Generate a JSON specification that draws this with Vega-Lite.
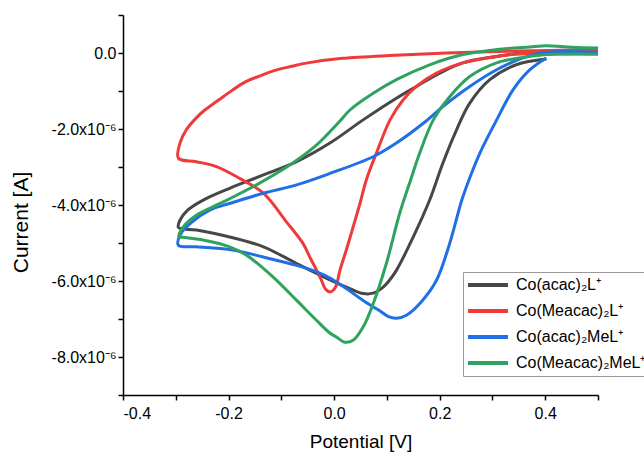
{
  "$schema": "https://vega.github.io/schema/vega-lite/v6.json",
  "width": 475,
  "height": 380,
  "autosize": "none",
  "padding": {"left": 123, "top": 15, "right": 46, "bottom": 58},
  "background": "white",
  "datasets": {
    "cv": [
      {"s":"Co(acac)₂L⁺","i":1,"v":0.402,"c":-0.16e-6},
      {"s":"Co(acac)₂L⁺","i":2,"v":0.345,"c":-0.31e-6},
      {"s":"Co(acac)₂L⁺","i":3,"v":0.295,"c":-0.70e-6},
      {"s":"Co(acac)₂L⁺","i":4,"v":0.257,"c":-1.32e-6},
      {"s":"Co(acac)₂L⁺","i":5,"v":0.232,"c":-2.02e-6},
      {"s":"Co(acac)₂L⁺","i":6,"v":0.206,"c":-2.90e-6},
      {"s":"Co(acac)₂L⁺","i":7,"v":0.181,"c":-3.87e-6},
      {"s":"Co(acac)₂L⁺","i":8,"v":0.150,"c":-4.84e-6},
      {"s":"Co(acac)₂L⁺","i":9,"v":0.118,"c":-5.72e-6},
      {"s":"Co(acac)₂L⁺","i":10,"v":0.105,"c":-5.98e-6},
      {"s":"Co(acac)₂L⁺","i":11,"v":0.093,"c":-6.16e-6},
      {"s":"Co(acac)₂L⁺","i":12,"v":0.074,"c":-6.32e-6},
      {"s":"Co(acac)₂L⁺","i":13,"v":0.055,"c":-6.33e-6},
      {"s":"Co(acac)₂L⁺","i":14,"v":0.030,"c":-6.20e-6},
      {"s":"Co(acac)₂L⁺","i":15,"v":-0.008,"c":-5.97e-6},
      {"s":"Co(acac)₂L⁺","i":16,"v":-0.071,"c":-5.54e-6},
      {"s":"Co(acac)₂L⁺","i":17,"v":-0.134,"c":-5.10e-6},
      {"s":"Co(acac)₂L⁺","i":18,"v":-0.198,"c":-4.84e-6},
      {"s":"Co(acac)₂L⁺","i":19,"v":-0.261,"c":-4.66e-6},
      {"s":"Co(acac)₂L⁺","i":20,"v":-0.295,"c":-4.59e-6},
      {"s":"Co(acac)₂L⁺","i":21,"v":-0.292,"c":-4.40e-6},
      {"s":"Co(acac)₂L⁺","i":22,"v":-0.277,"c":-4.13e-6},
      {"s":"Co(acac)₂L⁺","i":23,"v":-0.248,"c":-3.87e-6},
      {"s":"Co(acac)₂L⁺","i":24,"v":-0.198,"c":-3.56e-6},
      {"s":"Co(acac)₂L⁺","i":25,"v":-0.134,"c":-3.21e-6},
      {"s":"Co(acac)₂L⁺","i":26,"v":-0.071,"c":-2.86e-6},
      {"s":"Co(acac)₂L⁺","i":27,"v":-0.008,"c":-2.37e-6},
      {"s":"Co(acac)₂L⁺","i":28,"v":0.055,"c":-1.76e-6},
      {"s":"Co(acac)₂L⁺","i":29,"v":0.118,"c":-1.19e-6},
      {"s":"Co(acac)₂L⁺","i":30,"v":0.156,"c":-0.88e-6},
      {"s":"Co(acac)₂L⁺","i":31,"v":0.200,"c":-0.53e-6},
      {"s":"Co(acac)₂L⁺","i":32,"v":0.244,"c":-0.26e-6},
      {"s":"Co(acac)₂L⁺","i":33,"v":0.308,"c":-0.09e-6},
      {"s":"Co(acac)₂L⁺","i":34,"v":0.371,"c":0.02e-6},
      {"s":"Co(acac)₂L⁺","i":35,"v":0.45,"c":0.02e-6},
      {"s":"Co(acac)₂L⁺","i":36,"v":0.5,"c":0.01e-6},

      {"s":"Co(Meacac)₂L⁺","i":1,"v":0.5,"c":-0.02e-6},
      {"s":"Co(Meacac)₂L⁺","i":2,"v":0.45,"c":-0.02e-6},
      {"s":"Co(Meacac)₂L⁺","i":3,"v":0.40,"c":-0.01e-6},
      {"s":"Co(Meacac)₂L⁺","i":4,"v":0.345,"c":-0.03e-6},
      {"s":"Co(Meacac)₂L⁺","i":5,"v":0.308,"c":-0.09e-6},
      {"s":"Co(Meacac)₂L⁺","i":6,"v":0.244,"c":-0.26e-6},
      {"s":"Co(Meacac)₂L⁺","i":7,"v":0.194,"c":-0.53e-6},
      {"s":"Co(Meacac)₂L⁺","i":8,"v":0.156,"c":-0.88e-6},
      {"s":"Co(Meacac)₂L⁺","i":9,"v":0.131,"c":-1.23e-6},
      {"s":"Co(Meacac)₂L⁺","i":10,"v":0.106,"c":-1.76e-6},
      {"s":"Co(Meacac)₂L⁺","i":11,"v":0.080,"c":-2.64e-6},
      {"s":"Co(Meacac)₂L⁺","i":12,"v":0.061,"c":-3.34e-6},
      {"s":"Co(Meacac)₂L⁺","i":13,"v":0.049,"c":-3.96e-6},
      {"s":"Co(Meacac)₂L⁺","i":14,"v":0.036,"c":-4.58e-6},
      {"s":"Co(Meacac)₂L⁺","i":15,"v":0.023,"c":-5.19e-6},
      {"s":"Co(Meacac)₂L⁺","i":16,"v":0.011,"c":-5.72e-6},
      {"s":"Co(Meacac)₂L⁺","i":17,"v":0.004,"c":-6.12e-6},
      {"s":"Co(Meacac)₂L⁺","i":18,"v":-0.003,"c":-6.26e-6},
      {"s":"Co(Meacac)₂L⁺","i":19,"v":-0.008,"c":-6.29e-6},
      {"s":"Co(Meacac)₂L⁺","i":20,"v":-0.016,"c":-6.22e-6},
      {"s":"Co(Meacac)₂L⁺","i":21,"v":-0.024,"c":-5.98e-6},
      {"s":"Co(Meacac)₂L⁺","i":22,"v":-0.033,"c":-5.72e-6},
      {"s":"Co(Meacac)₂L⁺","i":23,"v":-0.046,"c":-5.37e-6},
      {"s":"Co(Meacac)₂L⁺","i":24,"v":-0.059,"c":-5.01e-6},
      {"s":"Co(Meacac)₂L⁺","i":25,"v":-0.090,"c":-4.45e-6},
      {"s":"Co(Meacac)₂L⁺","i":26,"v":-0.134,"c":-3.69e-6},
      {"s":"Co(Meacac)₂L⁺","i":27,"v":-0.179,"c":-3.30e-6},
      {"s":"Co(Meacac)₂L⁺","i":28,"v":-0.223,"c":-2.99e-6},
      {"s":"Co(Meacac)₂L⁺","i":29,"v":-0.261,"c":-2.86e-6},
      {"s":"Co(Meacac)₂L⁺","i":30,"v":-0.295,"c":-2.77e-6},
      {"s":"Co(Meacac)₂L⁺","i":31,"v":-0.292,"c":-2.37e-6},
      {"s":"Co(Meacac)₂L⁺","i":32,"v":-0.280,"c":-2.02e-6},
      {"s":"Co(Meacac)₂L⁺","i":33,"v":-0.262,"c":-1.72e-6},
      {"s":"Co(Meacac)₂L⁺","i":34,"v":-0.245,"c":-1.50e-6},
      {"s":"Co(Meacac)₂L⁺","i":35,"v":-0.220,"c":-1.25e-6},
      {"s":"Co(Meacac)₂L⁺","i":36,"v":-0.194,"c":-0.99e-6},
      {"s":"Co(Meacac)₂L⁺","i":37,"v":-0.168,"c":-0.76e-6},
      {"s":"Co(Meacac)₂L⁺","i":38,"v":-0.140,"c":-0.60e-6},
      {"s":"Co(Meacac)₂L⁺","i":39,"v":-0.115,"c":-0.47e-6},
      {"s":"Co(Meacac)₂L⁺","i":40,"v":-0.080,"c":-0.35e-6},
      {"s":"Co(Meacac)₂L⁺","i":41,"v":-0.050,"c":-0.26e-6},
      {"s":"Co(Meacac)₂L⁺","i":42,"v":0.016,"c":-0.14e-6},
      {"s":"Co(Meacac)₂L⁺","i":43,"v":0.115,"c":-0.06e-6},
      {"s":"Co(Meacac)₂L⁺","i":44,"v":0.213,"c":0.0},
      {"s":"Co(Meacac)₂L⁺","i":45,"v":0.345,"c":0.05e-6},
      {"s":"Co(Meacac)₂L⁺","i":46,"v":0.427,"c":0.07e-6},
      {"s":"Co(Meacac)₂L⁺","i":47,"v":0.5,"c":0.09e-6},

      {"s":"Co(acac)₂MeL⁺","i":1,"v":0.402,"c":-0.13e-6},
      {"s":"Co(acac)₂MeL⁺","i":2,"v":0.371,"c":-0.44e-6},
      {"s":"Co(acac)₂MeL⁺","i":3,"v":0.339,"c":-0.97e-6},
      {"s":"Co(acac)₂MeL⁺","i":4,"v":0.308,"c":-1.76e-6},
      {"s":"Co(acac)₂MeL⁺","i":5,"v":0.276,"c":-2.64e-6},
      {"s":"Co(acac)₂MeL⁺","i":6,"v":0.258,"c":-3.25e-6},
      {"s":"Co(acac)₂MeL⁺","i":7,"v":0.242,"c":-3.87e-6},
      {"s":"Co(acac)₂MeL⁺","i":8,"v":0.219,"c":-5.01e-6},
      {"s":"Co(acac)₂MeL⁺","i":9,"v":0.194,"c":-5.98e-6},
      {"s":"Co(acac)₂MeL⁺","i":10,"v":0.165,"c":-6.55e-6},
      {"s":"Co(acac)₂MeL⁺","i":11,"v":0.137,"c":-6.90e-6},
      {"s":"Co(acac)₂MeL⁺","i":12,"v":0.118,"c":-6.98e-6},
      {"s":"Co(acac)₂MeL⁺","i":13,"v":0.102,"c":-6.93e-6},
      {"s":"Co(acac)₂MeL⁺","i":14,"v":0.087,"c":-6.79e-6},
      {"s":"Co(acac)₂MeL⁺","i":15,"v":0.055,"c":-6.51e-6},
      {"s":"Co(acac)₂MeL⁺","i":16,"v":0.023,"c":-6.20e-6},
      {"s":"Co(acac)₂MeL⁺","i":17,"v":-0.008,"c":-5.92e-6},
      {"s":"Co(acac)₂MeL⁺","i":18,"v":-0.033,"c":-5.76e-6},
      {"s":"Co(acac)₂MeL⁺","i":19,"v":-0.071,"c":-5.59e-6},
      {"s":"Co(acac)₂MeL⁺","i":20,"v":-0.134,"c":-5.37e-6},
      {"s":"Co(acac)₂MeL⁺","i":21,"v":-0.198,"c":-5.17e-6},
      {"s":"Co(acac)₂MeL⁺","i":22,"v":-0.261,"c":-5.10e-6},
      {"s":"Co(acac)₂MeL⁺","i":23,"v":-0.295,"c":-5.06e-6},
      {"s":"Co(acac)₂MeL⁺","i":24,"v":-0.292,"c":-4.79e-6},
      {"s":"Co(acac)₂MeL⁺","i":25,"v":-0.273,"c":-4.49e-6},
      {"s":"Co(acac)₂MeL⁺","i":26,"v":-0.235,"c":-4.13e-6},
      {"s":"Co(acac)₂MeL⁺","i":27,"v":-0.198,"c":-3.96e-6},
      {"s":"Co(acac)₂MeL⁺","i":28,"v":-0.134,"c":-3.69e-6},
      {"s":"Co(acac)₂MeL⁺","i":29,"v":-0.071,"c":-3.47e-6},
      {"s":"Co(acac)₂MeL⁺","i":30,"v":-0.008,"c":-3.17e-6},
      {"s":"Co(acac)₂MeL⁺","i":31,"v":0.074,"c":-2.73e-6},
      {"s":"Co(acac)₂MeL⁺","i":32,"v":0.118,"c":-2.37e-6},
      {"s":"Co(acac)₂MeL⁺","i":33,"v":0.169,"c":-1.85e-6},
      {"s":"Co(acac)₂MeL⁺","i":34,"v":0.206,"c":-1.41e-6},
      {"s":"Co(acac)₂MeL⁺","i":35,"v":0.257,"c":-0.88e-6},
      {"s":"Co(acac)₂MeL⁺","i":36,"v":0.308,"c":-0.44e-6},
      {"s":"Co(acac)₂MeL⁺","i":37,"v":0.358,"c":-0.13e-6},
      {"s":"Co(acac)₂MeL⁺","i":38,"v":0.402,"c":0.02e-6},
      {"s":"Co(acac)₂MeL⁺","i":39,"v":0.5,"c":0.02e-6},

      {"s":"Co(Meacac)₂MeL⁺","i":1,"v":0.5,"c":-0.03e-6},
      {"s":"Co(Meacac)₂MeL⁺","i":2,"v":0.402,"c":-0.04e-6},
      {"s":"Co(Meacac)₂MeL⁺","i":3,"v":0.371,"c":-0.09e-6},
      {"s":"Co(Meacac)₂MeL⁺","i":4,"v":0.308,"c":-0.26e-6},
      {"s":"Co(Meacac)₂MeL⁺","i":5,"v":0.257,"c":-0.62e-6},
      {"s":"Co(Meacac)₂MeL⁺","i":6,"v":0.219,"c":-1.15e-6},
      {"s":"Co(Meacac)₂MeL⁺","i":7,"v":0.188,"c":-1.76e-6},
      {"s":"Co(Meacac)₂MeL⁺","i":8,"v":0.162,"c":-2.64e-6},
      {"s":"Co(Meacac)₂MeL⁺","i":9,"v":0.145,"c":-3.34e-6},
      {"s":"Co(Meacac)₂MeL⁺","i":10,"v":0.124,"c":-4.23e-6},
      {"s":"Co(Meacac)₂MeL⁺","i":11,"v":0.099,"c":-5.54e-6},
      {"s":"Co(Meacac)₂MeL⁺","i":12,"v":0.074,"c":-6.60e-6},
      {"s":"Co(Meacac)₂MeL⁺","i":13,"v":0.055,"c":-7.21e-6},
      {"s":"Co(Meacac)₂MeL⁺","i":14,"v":0.036,"c":-7.56e-6},
      {"s":"Co(Meacac)₂MeL⁺","i":15,"v":0.020,"c":-7.61e-6},
      {"s":"Co(Meacac)₂MeL⁺","i":16,"v":0.005,"c":-7.48e-6},
      {"s":"Co(Meacac)₂MeL⁺","i":17,"v":-0.008,"c":-7.37e-6},
      {"s":"Co(Meacac)₂MeL⁺","i":18,"v":-0.033,"c":-7.04e-6},
      {"s":"Co(Meacac)₂MeL⁺","i":19,"v":-0.071,"c":-6.51e-6},
      {"s":"Co(Meacac)₂MeL⁺","i":20,"v":-0.116,"c":-5.89e-6},
      {"s":"Co(Meacac)₂MeL⁺","i":21,"v":-0.166,"c":-5.32e-6},
      {"s":"Co(Meacac)₂MeL⁺","i":22,"v":-0.198,"c":-5.10e-6},
      {"s":"Co(Meacac)₂MeL⁺","i":23,"v":-0.242,"c":-4.94e-6},
      {"s":"Co(Meacac)₂MeL⁺","i":24,"v":-0.286,"c":-4.85e-6},
      {"s":"Co(Meacac)₂MeL⁺","i":25,"v":-0.294,"c":-4.84e-6},
      {"s":"Co(Meacac)₂MeL⁺","i":26,"v":-0.286,"c":-4.58e-6},
      {"s":"Co(Meacac)₂MeL⁺","i":27,"v":-0.261,"c":-4.27e-6},
      {"s":"Co(Meacac)₂MeL⁺","i":28,"v":-0.210,"c":-3.92e-6},
      {"s":"Co(Meacac)₂MeL⁺","i":29,"v":-0.147,"c":-3.47e-6},
      {"s":"Co(Meacac)₂MeL⁺","i":30,"v":-0.084,"c":-2.95e-6},
      {"s":"Co(Meacac)₂MeL⁺","i":31,"v":-0.033,"c":-2.42e-6},
      {"s":"Co(Meacac)₂MeL⁺","i":32,"v":0.011,"c":-1.79e-6},
      {"s":"Co(Meacac)₂MeL⁺","i":33,"v":0.030,"c":-1.50e-6},
      {"s":"Co(Meacac)₂MeL⁺","i":34,"v":0.074,"c":-1.06e-6},
      {"s":"Co(Meacac)₂MeL⁺","i":35,"v":0.118,"c":-0.70e-6},
      {"s":"Co(Meacac)₂MeL⁺","i":36,"v":0.181,"c":-0.31e-6},
      {"s":"Co(Meacac)₂MeL⁺","i":37,"v":0.244,"c":-0.04e-6},
      {"s":"Co(Meacac)₂MeL⁺","i":38,"v":0.308,"c":0.09e-6},
      {"s":"Co(Meacac)₂MeL⁺","i":39,"v":0.371,"c":0.16e-6},
      {"s":"Co(Meacac)₂MeL⁺","i":40,"v":0.402,"c":0.19e-6},
      {"s":"Co(Meacac)₂MeL⁺","i":41,"v":0.45,"c":0.15e-6},
      {"s":"Co(Meacac)₂MeL⁺","i":42,"v":0.5,"c":0.13e-6}
    ]
  },
  "data": {"name": "cv"},
  "layer": [
    {
      "mark": {"type": "line", "opacity": 0},
      "encoding": {
        "x": {"field": "v", "type": "quantitative",
              "scale": {"domain": [-0.4, 0.5], "nice": false, "zero": false},
              "axis": {"orient": "bottom", "values": [-0.3, -0.1, 0.1, 0.3, 0.5], "labels": false, "domain": false, "title": null, "ticks": true}},
        "y": {"field": "c", "type": "quantitative",
              "scale": {"domain": [-9e-6, 1e-6], "nice": false, "zero": false},
              "axis": {"orient": "left", "values": [1e-6, -1e-6, -3e-6, -5e-6, -7e-6, -9e-6], "labels": false, "domain": false, "title": null, "ticks": true}}
      }
    },
    {
      "mark": {"type": "line", "strokeWidth": 3, "interpolate": "catmull-rom"},
      "encoding": {
        "x": {"field": "v", "type": "quantitative",
              "scale": {"domain": [-0.4, 0.5], "nice": false, "zero": false},
              "axis": {"orient": "bottom", "values": [-0.4, -0.2, 0, 0.2, 0.4],
                       "labelExpr": "(datum.value < 0 ? '-' : '') + format(abs(datum.value), '.1f')",
                       "labelPadding": 5, "title": "Potential [V]", "titleFontSize": 19,
                       "titleBaseline": "middle", "titleY": 46}},
        "y": {"field": "c", "type": "quantitative",
              "scale": {"domain": [-9e-6, 1e-6], "nice": false, "zero": false},
              "axis": {"orient": "left", "values": [0, -2e-6, -4e-6, -6e-6, -8e-6],
                       "labelExpr": "datum.value == 0 ? '0.0' : '-' + format(-datum.value * 1e6, '.1f') + 'x10⁻⁶'",
                       "labelPadding": 2, "title": "Current [A]", "titleFontSize": 21,
                       "titleAngle": -90, "titleBaseline": "middle", "titleAlign": "center",
                       "titleX": -102, "titleY": 207}},
        "color": {"field": "s", "type": "nominal",
                  "scale": {"domain": ["Co(acac)₂L⁺", "Co(Meacac)₂L⁺", "Co(acac)₂MeL⁺", "Co(Meacac)₂MeL⁺"],
                            "range": ["#474747", "#ef3a3a", "#1f6fe5", "#2ea35f"]},
                  "legend": {"orient": "none", "legendX": 340, "legendY": 257, "title": null,
                             "symbolType": "stroke", "symbolSize": 1600, "symbolStrokeWidth": 4,
                             "labelFontSize": 16, "labelFont": "Liberation Sans", "labelColor": "black",
                             "clipHeight": 20, "rowPadding": 6, "padding": 3, "labelOffset": 6,
                             "fillColor": "white", "strokeColor": "#9a9a9a", "labelLimit": 300}},
        "order": {"field": "i", "type": "quantitative"}
      }
    }
  ],
  "resolve": {"axis": {"x": "independent", "y": "independent"}},
  "config": {
    "view": {"stroke": null},
    "axis": {"labelFont": "Liberation Sans", "titleFont": "Liberation Sans", "labelFontSize": 16,
             "titleFontWeight": "normal", "domainColor": "black", "tickColor": "black",
             "labelColor": "black", "titleColor": "black", "grid": false, "tickSize": 5,
             "domainWidth": 1.5, "tickWidth": 1.5}
  }
}
